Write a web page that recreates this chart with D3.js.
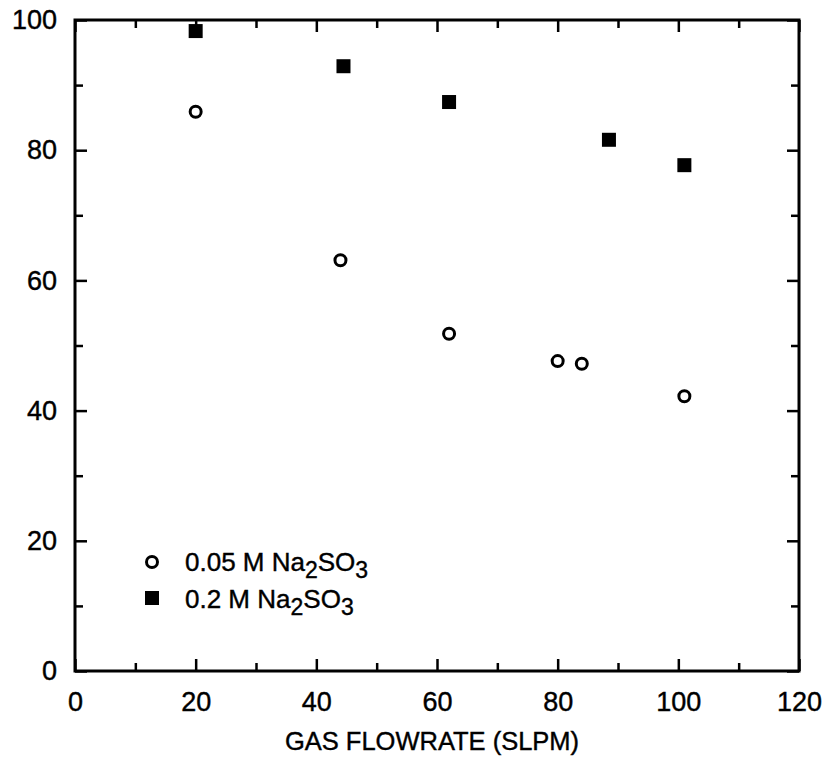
<!DOCTYPE html>
<html>
<head>
<meta charset="utf-8">
<script src="https://cdn.jsdelivr.net/npm/d3@7"></script>
<style>
  body { margin: 0; background: #fff; }
  svg { font-family: "Liberation Sans", Arial, Helvetica, sans-serif; }
  svg text { stroke: #000; stroke-width: 0.4px; }
  .axis path { display: none; }
  .axis line { stroke: #000; stroke-width: 2.5; }
</style>
</head>
<body>
<svg width="826" height="761"></svg>
<script>
// series
const lowFlow = [20, 44, 62, 80, 84, 101];
const lowVal = [85.9, 63.1, 51.8, 47.6, 47.2, 42.2];
const highFlow = [20, 44.5, 62, 88.5, 101];
const highVal = [98.3, 92.9, 87.4, 81.6, 77.7];

const majorTicks = [0, 20, 40, 60, 80, 100, 120];
const yMajor = [0, 20, 40, 60, 80, 100];
const minorX = [10, 30, 50, 70, 90, 110];
const minorY = [10, 30, 50, 70, 90];

const legendLabels = [
  { pre: "0.05 M Na", sub1: "2", mid: "SO", sub2: "3" },
  { pre: "0.2 M Na", sub1: "2", mid: "SO", sub2: "3" }
];

const svg = d3.select('svg');
const plotL = 75, plotR = 799, plotT = 20, plotB = 671;

const x = d3.scaleLinear().domain([0, 120]).range([plotL, plotR]);
const y = d3.scaleLinear().domain([0, 100]).range([plotB, plotT]);

// minor ticks, all four sides, inward
svg.append('g').attr('class', 'axis').attr('transform', `translate(0,${plotB})`)
  .call(d3.axisBottom(x).tickValues(minorX).tickSize(-8).tickFormat(''));
svg.append('g').attr('class', 'axis').attr('transform', `translate(0,${plotT})`)
  .call(d3.axisTop(x).tickValues(minorX).tickSize(-8).tickFormat(''));
svg.append('g').attr('class', 'axis').attr('transform', `translate(${plotL},0)`)
  .call(d3.axisLeft(y).tickValues(minorY).tickSize(-8).tickFormat(''));
svg.append('g').attr('class', 'axis').attr('transform', `translate(${plotR},0)`)
  .call(d3.axisRight(y).tickValues(minorY).tickSize(-8).tickFormat(''));

// major ticks
const xAx = svg.append('g').attr('class', 'axis').attr('transform', `translate(0,${plotB})`)
  .call(d3.axisBottom(x).tickValues(majorTicks).tickSize(-12).tickPadding(21).tickFormat(d3.format('d')));
svg.append('g').attr('class', 'axis').attr('transform', `translate(0,${plotT})`)
  .call(d3.axisTop(x).tickValues(majorTicks).tickSize(-12).tickFormat(''));
const yAx = svg.append('g').attr('class', 'axis').attr('transform', `translate(${plotL},0)`)
  .call(d3.axisLeft(y).tickValues(yMajor).tickSize(-12).tickPadding(18).tickFormat(d3.format('d')));
svg.append('g').attr('class', 'axis').attr('transform', `translate(${plotR},0)`)
  .call(d3.axisRight(y).tickValues(yMajor).tickSize(-12).tickFormat(''));

[xAx, yAx].forEach(a => a.selectAll('text')
  .style('font-size', '27px')
  .style('fill', '#000'));

// frame
svg.append('rect')
  .attr('x', plotL).attr('y', plotT)
  .attr('width', plotR - plotL).attr('height', plotB - plotT)
  .attr('fill', 'none').attr('stroke', '#000').attr('stroke-width', 3);

// axis title
svg.append('text')
  .attr('x', 432).attr('y', 750)
  .attr('text-anchor', 'middle')
  .style('font-size', '25.5px')
  .text('GAS FLOWRATE (SLPM)');

// open circles
svg.append('g').selectAll('circle')
  .data(lowFlow)
  .enter().append('circle')
  .attr('cx', d => x(d))
  .attr('cy', (d, i) => y(lowVal[i]))
  .attr('r', 5.5)
  .attr('fill', 'none')
  .attr('stroke', '#000')
  .attr('stroke-width', 3);

// filled squares
const sq = 14;
svg.append('g').selectAll('rect')
  .data(highFlow)
  .enter().append('rect')
  .attr('x', d => x(d) - sq / 2)
  .attr('y', (d, i) => y(highVal[i]) - sq / 2)
  .attr('width', sq).attr('height', sq)
  .attr('fill', '#000');

// legend
const legend = svg.append('g').attr('transform', 'translate(152,562)');
legend.append('circle').attr('r', 5.5)
  .attr('fill', 'none').attr('stroke', '#000').attr('stroke-width', 3);
legend.append('rect').attr('x', -7).attr('y', 36 - 7).attr('width', 14).attr('height', 14)
  .attr('fill', '#000');

const rows = legend.selectAll('.legend-text')
  .data(legendLabels)
  .enter().append('text')
  .attr('class', 'legend-text')
  .attr('x', 33)
  .attr('y', (d, i) => 9 + i * 37)
  .style('font-size', '26px');

rows.append('tspan').text(d => d.pre);
rows.append('tspan').attr('dy', 7).style('font-size', '23px').text(d => d.sub1);
rows.append('tspan').attr('dy', -7).text(d => d.mid);
rows.append('tspan').attr('dy', 7).style('font-size', '23px').text(d => d.sub2);
</script>
</body>
</html>
